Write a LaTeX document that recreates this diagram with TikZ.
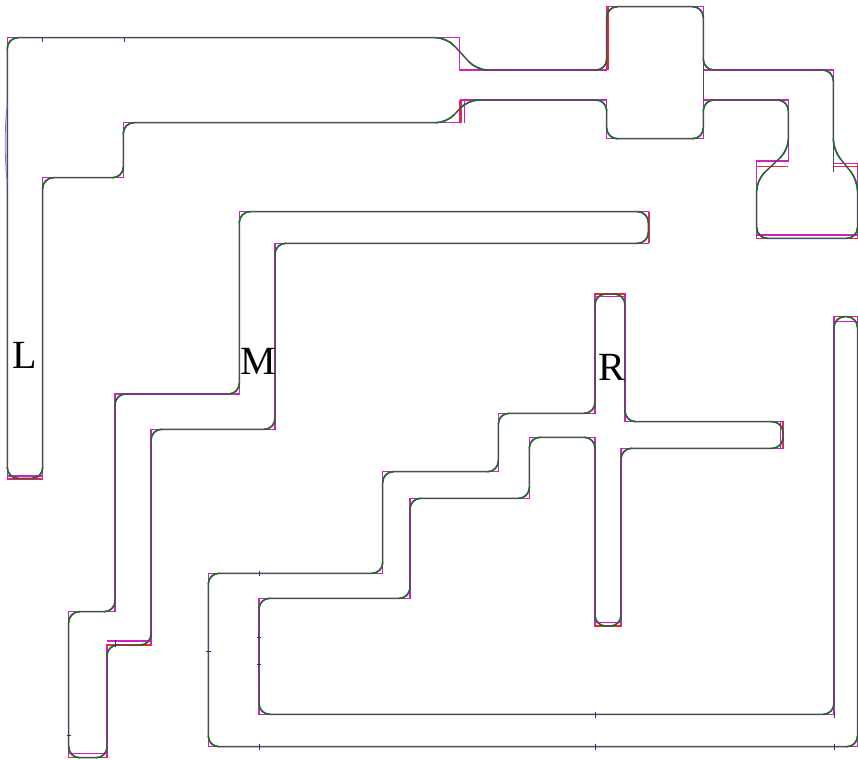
\documentclass[tikz,border=0pt]{standalone}
\usepackage{fontspec}
\setmainfont{Liberation Serif}
\begin{document}
\begin{tikzpicture}[x=0.75pt,y=-0.75pt]
\definecolor{wirecol}{HTML}{4A4A58}
\definecolor{arcgreen}{HTML}{1E6E2A}
\definecolor{cornermag}{HTML}{D21FC3}
\definecolor{capred}{HTML}{F02828}
\definecolor{tickblue}{HTML}{28308C}
\definecolor{traceblue}{HTML}{6C78E0}
\tikzset{
  sharpline/.style={draw=cornermag, line width=0.8pt},
  wireline/.style={draw=wirecol, line width=1.1pt, rounded corners=8pt},
  arcline/.style={draw=arcgreen, line width=1.1pt, rounded corners=8pt},
  capline/.style={draw=capred, line width=0.8pt},
  tickmark/.style={draw=tickblue, line width=0.6pt},
  letter/.style={font=\fontsize{30}{30}\selectfont, inner sep=0pt, anchor=base},
}
\useasboundingbox (0,0) rectangle (858,760);

% corner points of the three wires
% L: sharp outline and chamfered wire outline
\def\Lsharprest{(7.3,37.7),(459.3,37.7),(459.3,70),(606.7,70),(606.7,6.7),(703.3,6.7),(703.3,70),(833.3,70),(833.3,163.3),(857.5,163.3),(857.5,238.3),(756.7,238.3),(756.7,161),(788.3,161),(788.3,100),(703.3,100),(703.3,138.7),(606.7,138.7),(606.7,100),(461,100),(461,122.7),(123.3,122.7),(123.3,177.7),(42.7,177.7),(42.7,478.3)}
\def\Lrest{(7.3,37.7),(446.7,37.7),(476.7,70),(606.7,70),(606.7,6.7),(703.3,6.7),(703.3,70),(833.3,70),(833.3,150),(857.5,180),(857.5,238.3),(756.7,238.3),(756.7,180),(788.3,150),(788.3,100),(703.3,100),(703.3,138.7),(606.7,138.7),(606.7,100),(468,100),(446.7,122.7),(123.3,122.7),(123.3,177.7),(42.7,177.7),(42.7,478.3)}
\def\Mrest{(648.3,211.7),(648.3,243.3),(275,243.3),(275,429.3),(151,429.3),(151,645),(107,645),(107,757.7),(68.7,757.7),(68.7,611.7),(115,611.7),(115,394),(239.3,394)}
\def\Rrest{(382.7,573.3),(382.7,471.7),(498.3,471.7),(498.3,413.3),(595,413.3),(595,294),(625,294),(625,421.7),(783,421.7),(783,448.3),(621,448.3),(621,626),(595,626),(595,437.3),(529.3,437.3),(529.3,498.3),(410,498.3),(410,598.3),(259,598.3),(259,714.3),(834,714.3),(834,316.7),(857.5,316.7),(857.5,746.7),(208.3,746.7)}

% build outline paths and corner-circle paths from the point lists
\newcommand\buildwire[4]{%
  \xdef#1{#3}\xdef#2{#3 circle (8.5pt)}%
  \foreach \p in #4 {\xdef#1{#1 -- \p}\xdef#2{#2 \p\space circle (8.5pt)}}%
  \xdef#1{#1 -- cycle}}
\buildwire{\Lsharp}{\Lunused}{(7.3,478.3)}{\Lsharprest}
\buildwire{\Lpath}{\Lcirc}{(7.3,478.3)}{\Lrest}
\buildwire{\Mpath}{\Mcirc}{(239.3,211.7)}{\Mrest}
\buildwire{\Rpath}{\Rcirc}{(208.3,573.3)}{\Rrest}

% sharp reference outlines
\draw[sharpline] \Lsharp;
\draw[sharpline] \Mpath;
\draw[sharpline] \Rpath;
\draw[sharpline] (7.3,476) -- (42.7,476);
\draw[sharpline] (68.7,753.3) -- (107,753.3);
\draw[sharpline] (107,641) -- (151,641);
\draw[sharpline] (464.3,100) -- (464.3,122.7);
\draw[sharpline] (756.7,235) -- (857.5,235);
\draw[sharpline] (595,296.7) -- (625,296.7);
\draw[sharpline] (780.5,421.7) -- (780.5,448.3);
\draw[sharpline] (595,622.7) -- (621,622.7);
\draw[sharpline] (834,321.7) -- (857.5,321.7);

% end caps
\draw[capline] (7.3,479.5) -- (42.7,479.5);
\draw[capline] (68.7,757.7) -- (107,757.7);
\draw[capline] (107,645) -- (151,645);
\draw[capline] (649.5,211.7) -- (649.5,243.3);
\draw[capline] (608,7) -- (608,70);
\draw[capline] (460,100) -- (460,122.7);
\draw[capline] (756.7,166.5) -- (788.3,166.5);
\draw[capline] (833.3,166.7) -- (857.5,166.7);
\draw[capline] (756.7,238.3) -- (857.5,238.3);
\draw[capline] (595,294) -- (625,294);
\draw[capline] (783.3,421.7) -- (783.3,448.3);
\draw[capline] (595,626) -- (621,626);
\draw[capline] (834,316.7) -- (857.5,316.7);

% rounded wire outlines
\draw[wireline] \Lpath;
\draw[wireline] \Mpath;
\draw[wireline] \Rpath;
\draw[wirecol, line width=1pt] (703.3,55) -- (703.3,100);
\draw[wirecol, line width=1pt] (833.3,147) -- (833.3,172);

% corner arcs
\begin{scope}
  \clip \Lcirc \Mcirc \Rcirc;
  \draw[arcline] \Lpath;
  \draw[arcline] \Mpath;
  \draw[arcline] \Rpath;
\end{scope}

% small marks along the wires
\draw[tickmark] (42.7,37.7) -- (42.7,41.5);
\draw[tickmark] (124,37.7) -- (124,41.5);
\draw[traceblue, line width=0.6pt] (7.3,105) .. controls (4.5,125) and (4.5,160) .. (7.3,182);
\draw[tickmark] (259,570.5) -- (259,576);
\draw[tickmark] (206,651.7) -- (210.5,651.7);
\draw[tickmark] (256.5,637.7) -- (261,637.7);
\draw[tickmark] (256.5,664) -- (261,664);
\draw[tickmark] (259,743.5) -- (259,749.5);
\draw[tickmark] (595,711.5) -- (595,717.5);
\draw[tickmark] (595,743.5) -- (595,749.5);
\draw[tickmark] (834,711.5) -- (834,717.5);
\draw[tickmark] (834,743.5) -- (834,749.5);
\draw[tickmark] (115,640) -- (115,647);
\draw[tickmark] (66.5,735) -- (70.5,735);

% wire labels
\node[letter] (labL) at (25,368.3) {L};
\node[letter] (labM) at (258.3,374) {M};
\node[letter] (labR) at (611.7,380) {R};
\end{tikzpicture}
\end{document}
